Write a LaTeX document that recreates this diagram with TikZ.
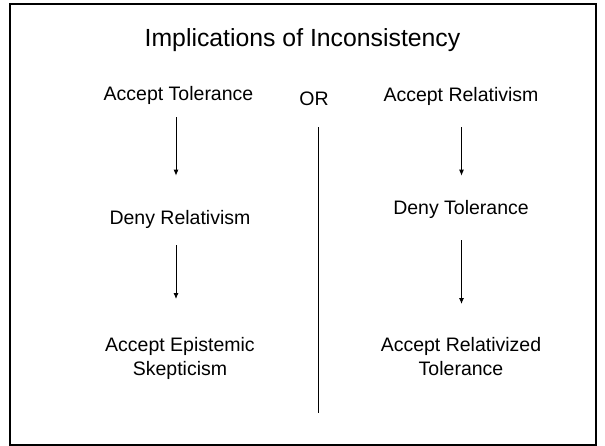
\documentclass[tikz,border=0pt]{standalone}
\usepackage{fontspec}
\setmainfont{Liberation Sans}
\usetikzlibrary{arrows.meta}

\begin{document}
\begin{tikzpicture}[x=1pt,y=-1pt,>={Latex[length=6pt,width=5pt]},
        claim/.style={inner sep=0pt,font=\fontsize{19.5}{24}\selectfont,align=center},
        flow/.style={->,line width=0.9pt}]
        \useasboundingbox (0,0) rectangle (605,445);
        \draw[line width=2pt] (10,4) rectangle (596,445);
        \path
        % title
        +(302.5,46)  node[anchor=base,inner sep=0pt,font=\fontsize{24.8}{30}\selectfont] (title) {Implications of Inconsistency}
        % left column
        +(178.5,100) node[claim,anchor=base]  (acctol) {Accept Tolerance}
        +(180,224)   node[claim,anchor=base]  (denyrel) {Deny Relativism}
        +(180,337)   node[claim,anchor=north] (accepi) {Accept Epistemic\\Skepticism}
        % middle
        +(314,105)   node[claim,anchor=base]  (or) {OR}
        % right column
        +(461,101)   node[claim,anchor=base]  (accrel) {Accept Relativism}
        +(461,214)   node[claim,anchor=base]  (denytol) {Deny Tolerance}
        +(461,337)   node[claim,anchor=north] (accreltol) {Accept Relativized\\Tolerance};

        \coordinate (lcol) at (176,0);
        \coordinate (rcol) at (461.5,0);
        \coordinate (sepend) at (318.5,413);

        \draw[flow,shorten <=13pt,shorten >=34pt] (acctol.south -| lcol) -- (denyrel.north -| lcol);
        \draw[flow,shorten <=17pt,shorten >=38pt] (denyrel.south -| lcol) -- (accepi.north -| lcol);

        \draw[flow,shorten <=22pt,shorten >=24pt] (accrel.south -| rcol) -- (denytol.north -| rcol);
        \draw[flow,shorten <=22pt,shorten >=33pt] (denytol.south -| rcol) -- (accreltol.north -| rcol);

        \draw[line width=0.9pt,shorten <=22pt] (or.south -| sepend) -- (sepend);
    \end{tikzpicture}
\end{document}
